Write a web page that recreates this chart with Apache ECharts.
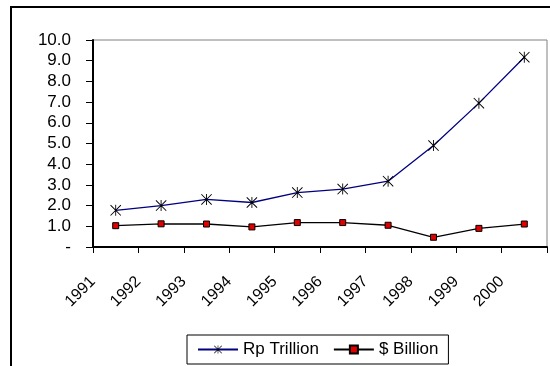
<!DOCTYPE html>
<html>
<head>
<meta charset="utf-8">
<script src="https://cdn.jsdelivr.net/npm/echarts@6/dist/echarts.min.js"></script>
<style>
  html, body { margin: 0; padding: 0; background: #fff; }
  #chart { width: 550px; height: 366px; }
</style>
</head>
<body>
<div id="chart"></div>
<script>
// data
const years = ['1991', '1992', '1993', '1994', '1995', '1996', '1997', '1998', '1999', '2000'];
const rpTrillion = [1.77, 2.0, 2.3, 2.15, 2.63, 2.8, 3.18, 4.9, 6.95, 9.17];
const usdBillion = [1.03, 1.12, 1.11, 0.97, 1.18, 1.18, 1.05, 0.47, 0.9, 1.11];
// tick labels sit on the tick marks, not under the points
const tickLabels = years.concat(['']);

// asterisk marker, three thin bars
const starPath = 'path://M4.6,0 L5.4,0 L5.4,10 L4.6,10 Z ' +
  'M0,0.6 L0.6,0 L10,9.4 L9.4,10 Z ' +
  'M0.6,10 L0,9.4 L9.4,0 L10,0.6 Z';

const font = 'Liberation Sans, Arial, sans-serif';

const chart = echarts.init(document.getElementById('chart'), null, { renderer: 'canvas' });

chart.setOption({
  backgroundColor: '#fff',
  animation: false,
  graphic: [{
    type: 'rect',
    shape: { x: 11, y: 7, width: 600, height: 400 },
    style: { fill: 'none', stroke: '#000', lineWidth: 2 },
    z: 0
  }],
  grid: {
    left: 93, top: 40, right: 3, bottom: 119,
    show: true,
    borderColor: '#808080',
    borderWidth: 1
  },
  legend: {
    bottom: 2,
    left: 187,
    padding: [6, 10, 6, 10],
    itemGap: 14,
    itemWidth: 40,
    itemHeight: 10,
    borderColor: '#000',
    borderWidth: 1,
    borderRadius: 0,
    textStyle: { color: '#000', fontSize: 17, fontFamily: font },
    data: ['Rp Trillion', '$ Billion']
  },
  xAxis: [{
    type: 'category',
    data: years,
    boundaryGap: true,
    show: false
  }, {
    type: 'category',
    data: tickLabels,
    boundaryGap: false,
    position: 'bottom',
    axisLine: { lineStyle: { color: '#000', width: 2 } },
    axisTick: { show: true, inside: false, length: 6, interval: 0, lineStyle: { color: '#000' } },
    axisLabel: {
      interval: 0,
      rotate: 45,
      margin: 32,
      color: '#000',
      fontSize: 16,
      fontFamily: font
    },
    splitLine: { show: false }
  }],
  yAxis: {
    type: 'value',
    min: 0,
    max: 10,
    interval: 1,
    axisLine: { show: true, lineStyle: { color: '#000', width: 2 } },
    axisTick: { show: true, length: 7, lineStyle: { color: '#000' } },
    axisLabel: {
      margin: 22,
      color: '#000',
      fontSize: 17,
      fontFamily: font,
      formatter: v => v === 0 ? '-' : v.toFixed(1)
    },
    splitLine: { show: false }
  },
  series: [{
    name: 'Rp Trillion',
    type: 'line',
    xAxisIndex: 0,
    data: rpTrillion,
    symbol: starPath,
    symbolSize: 11,
    itemStyle: { color: '#000' },
    lineStyle: { color: '#000080', width: 1.3 }
  }, {
    name: '$ Billion',
    type: 'line',
    xAxisIndex: 0,
    data: usdBillion,
    symbol: 'rect',
    symbolSize: 6,
    itemStyle: { color: '#e00000', borderColor: '#000', borderWidth: 1 },
    lineStyle: { color: '#000', width: 1.3 }
  }]
});
</script>
</body>
</html>
